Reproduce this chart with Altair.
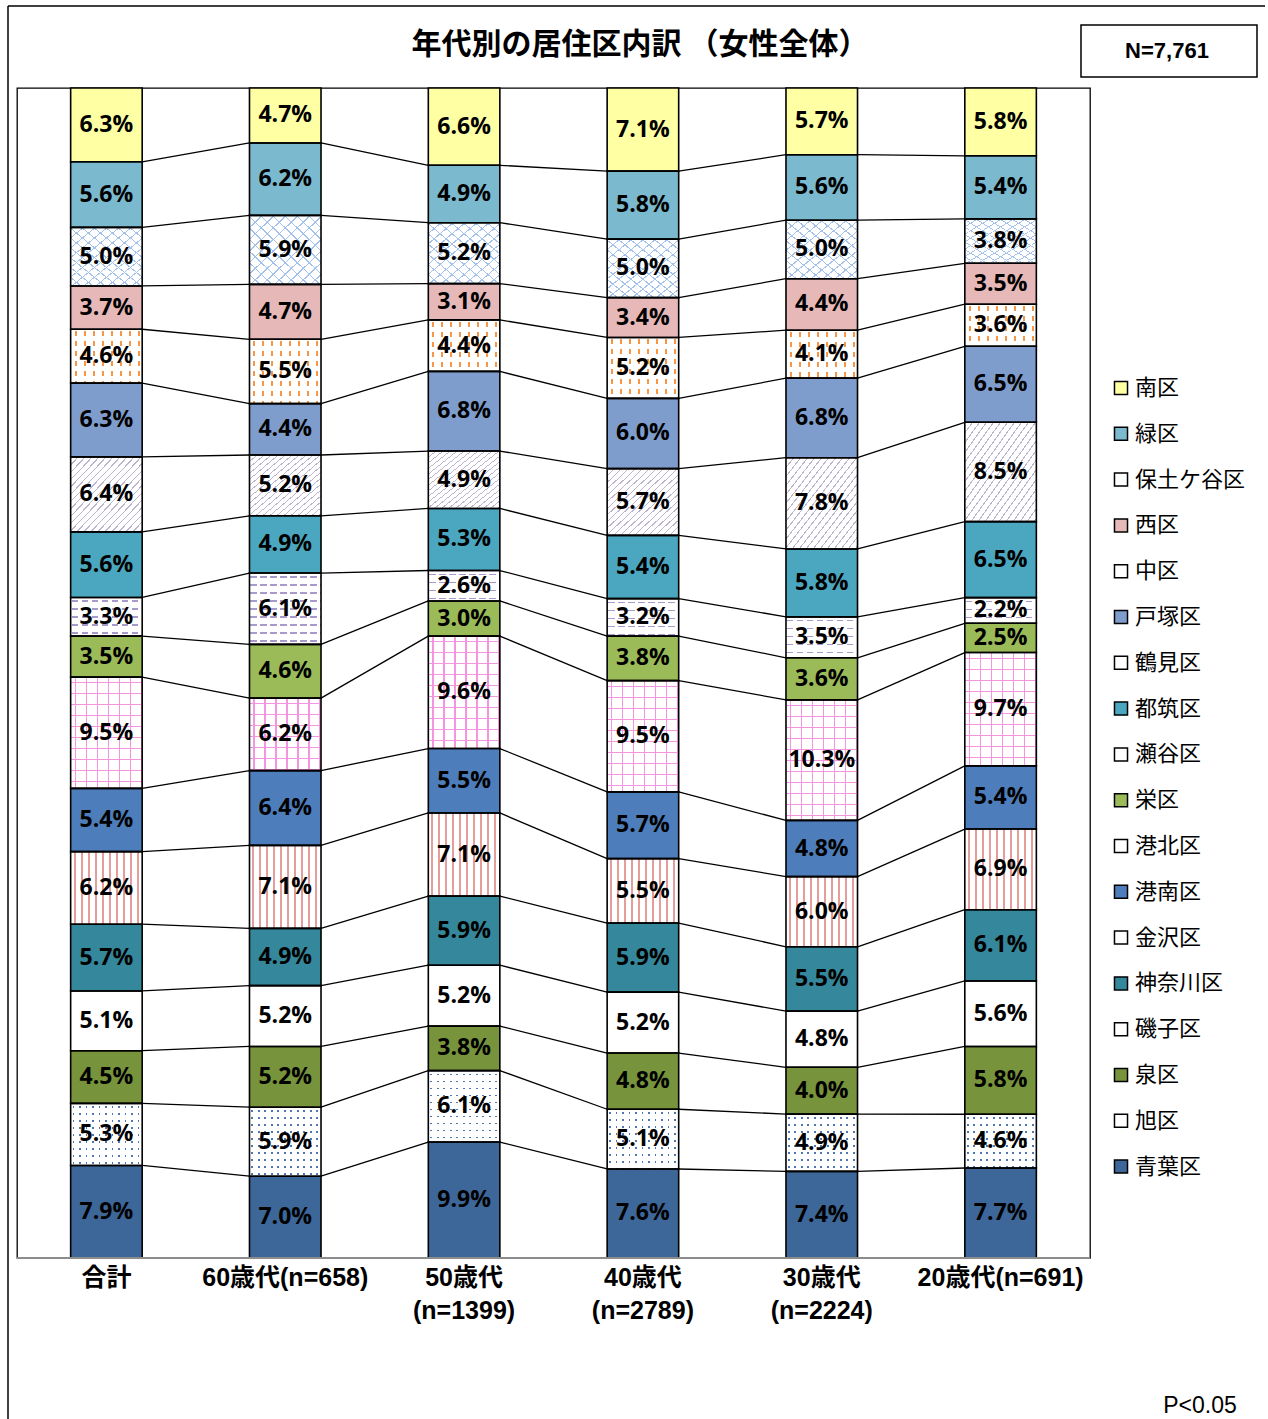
import altair as alt
import pandas as pd

# ---------------- data ----------------
cat_line1 = ["合計", "60歳代(n=658)", "50歳代", "40歳代", "30歳代", "20歳代(n=691)"]
cat_line2 = ["", "", "(n=1399)", "(n=2789)", "(n=2224)", ""]

# stack order, bottom to top
wards = ["青葉区", "旭区", "泉区", "磯子区", "神奈川区", "金沢区", "港南区", "港北区", "栄区",
         "瀬谷区", "都筑区", "鶴見区", "戸塚区", "中区", "西区", "保土ケ谷区", "緑区", "南区"]

vals_total = [7.9, 5.3, 4.5, 5.1, 5.7, 6.2, 5.4, 9.5, 3.5, 3.3, 5.6, 6.4, 6.3, 4.6, 3.7, 5.0, 5.6, 6.3]
vals_60 = [7.0, 5.9, 5.2, 5.2, 4.9, 7.1, 6.4, 6.2, 4.6, 6.1, 4.9, 5.2, 4.4, 5.5, 4.7, 5.9, 6.2, 4.7]
vals_50 = [9.9, 6.1, 3.8, 5.2, 5.9, 7.1, 5.5, 9.6, 3.0, 2.6, 5.3, 4.9, 6.8, 4.4, 3.1, 5.2, 4.9, 6.6]
vals_40 = [7.6, 5.1, 4.8, 5.2, 5.9, 5.5, 5.7, 9.5, 3.8, 3.2, 5.4, 5.7, 6.0, 5.2, 3.4, 5.0, 5.8, 7.1]
vals_30 = [7.4, 4.9, 4.0, 4.8, 5.5, 6.0, 4.8, 10.3, 3.6, 3.5, 5.8, 7.8, 6.8, 4.1, 4.4, 5.0, 5.6, 5.7]
vals_20 = [7.7, 4.6, 5.8, 5.6, 6.1, 6.9, 5.4, 9.7, 2.5, 2.2, 6.5, 8.5, 6.5, 3.6, 3.5, 3.8, 5.4, 5.8]
all_vals = [vals_total, vals_60, vals_50, vals_40, vals_30, vals_20]

title_text = "年代別の居住区内訳 （女性全体）"
n_text = "N=7,761"
p_text = "P<0.05"

# ---------------- styles ----------------
W, H = 1073, 1170
BW = 0.4 * W / 6
WHITE = "#FFFFFF"
T = "rgba(255,255,255,0)"

base_colors = {
    "青葉区": "#3D6699", "旭区": WHITE, "泉区": "#77933C", "磯子区": WHITE,
    "神奈川区": "#35879B", "金沢区": WHITE, "港南区": "#4D7DBA", "港北区": WHITE,
    "栄区": "#9BBB59", "瀬谷区": WHITE, "都筑区": "#4BA7BF", "鶴見区": WHITE,
    "戸塚区": "#7F9DCC", "中区": WHITE, "西区": "#E6B9B8", "保土ケ谷区": WHITE,
    "緑区": "#7BB9CE", "南区": "#FFFFA4",
}

COORDS = {"v": (0, 0, 1, 0), "h": (0, 0, 0, 1), "d": (0, 0, 1, 1), "b": (1, 0, 0, 1)}


def grad(kind, length, period, width, on, off, phase=0.0):
    x1, y1, x2, y2 = COORDS[kind]
    stops = [{"offset": 0, "color": off}]
    p = phase - period
    while p < length:
        a = max(p, 0.0)
        b = min(p + width, length)
        if b > a:
            stops += [{"offset": a / length, "color": off}, {"offset": a / length, "color": on},
                      {"offset": b / length, "color": on}, {"offset": b / length, "color": off}]
        p += period
    stops.append({"offset": 1, "color": off})
    return {"gradient": "linear", "x1": x1, "y1": y1, "x2": x2, "y2": y2, "stops": stops}


def patterns(ward, h):
    if ward == "金沢区":
        return grad("v", BW, 7.0, 2.0, "#E49D9B", T, 3), None
    if ward == "鶴見区":
        return grad("d", 2 * BW, 7.0, 1.3, "#BDB4CF", T), None
    if ward == "保土ケ谷区":
        return grad("d", 2 * BW, 12, 1.5, "#A3C1EA", T), grad("b", 2 * BW, 12, 1.5, "#A3C1EA", T)
    if ward == "中区":
        return grad("v", BW, 9, 2.0, "#F79646", T, 4), grad("h", h, 10, 5, T, WHITE, 2)
    if ward == "瀬谷区":
        return grad("h", h, 8, 1.6, "#A89BCB", T, 3), grad("v", BW, 10, 6.5, T, WHITE, 1)
    if ward == "港北区":
        return grad("h", h, 11, 1.3, "#F594DF", T, 5), grad("v", BW, 11, 1.3, "#F594DF", T, 4)
    if ward == "旭区":
        return grad("v", BW, 6.5, 1.7, "#4F76B0", T, 2), grad("h", h, 7, 1.7, T, WHITE, 3)
    return None, None


# ---------------- tables ----------------
seg_rows, ov1_rows, ov2_rows, conn_rows = [], [], [], []
cums = []
for i, vals in enumerate(all_vals):
    tot = sum(vals)
    cum = [0.0]
    for v in vals:
        cum.append(cum[-1] + v / tot)
    cums.append(cum)
    for k, (w, v) in enumerate(zip(wards, vals)):
        rec = {"ward": w, "value": v, "label": f"{v:.1f}%", "y0": cum[k], "y1": cum[k + 1],
               "xa": i + 0.3, "xb": i + 0.7, "xc": i + 0.5, "ym": (cum[k] + cum[k + 1]) / 2}
        seg_rows.append(rec)
        g1, g2 = patterns(w, (cum[k + 1] - cum[k]) * H)
        if g1 is not None:
            ov1_rows.append(dict(rec, g=g1))
        if g2 is not None:
            ov2_rows.append(dict(rec, g=g2))

for i in range(len(all_vals) - 1):
    for k in range(1, len(wards)):
        conn_rows.append({"x": i + 0.7, "x2": i + 1.3, "y": cums[i][k], "y2": cums[i + 1][k]})

cat_df = pd.DataFrame({"xc": [i + 0.5 for i in range(6)], "l1": cat_line1, "l2": cat_line2})

xs = alt.Scale(domain=[0, 6], nice=False, zero=False)
ys = alt.Scale(domain=[0, 1], nice=False, zero=False)
X = alt.X("xa:Q", scale=xs, axis=None)
Y = alt.Y("y0:Q", scale=ys, axis=None)

legend_order = list(reversed(wards))
legend_colors = [base_colors[w] for w in legend_order]

segs = alt.Data(values=seg_rows)

base = alt.Chart(segs).mark_rect(strokeWidth=0).encode(
    x=X, x2="xb:Q", y=Y, y2="y1:Q",
    fill=alt.Fill("ward:N", scale=alt.Scale(domain=legend_order, range=legend_colors),
                  legend=alt.Legend(orient="none", legendX=1093, legendY=289, title=None,
                                    symbolType="square", symbolSize=170, symbolStrokeColor="black",
                                    symbolStrokeWidth=1.5, symbolOpacity=1,
                                    labelFont="Noto Sans CJK JP", labelFontSize=22, labelColor="black",
                                    rowPadding=23.8, labelOffset=3, padding=0, labelLimit=300)),
)

ov1 = alt.Chart(alt.Data(values=ov1_rows)).mark_rect(strokeWidth=0).encode(
    x=X, x2="xb:Q", y=Y, y2="y1:Q", fill=alt.Fill("g:N", scale=None))
ov2 = alt.Chart(alt.Data(values=ov2_rows)).mark_rect(strokeWidth=0).encode(
    x=X, x2="xb:Q", y=Y, y2="y1:Q", fill=alt.Fill("g:N", scale=None))

outline = alt.Chart(segs).mark_rect(fill="white", fillOpacity=0, stroke="black", strokeWidth=1.6).encode(
    x=X, x2="xb:Q", y=Y, y2="y1:Q")

conn = alt.Chart(alt.Data(values=conn_rows)).mark_rule(color="black", strokeWidth=1.3).encode(
    x=alt.X("x:Q", scale=xs, axis=None), x2="x2:Q",
    y=alt.Y("y:Q", scale=ys, axis=None), y2="y2:Q")

labels = alt.Chart(segs).mark_text(font="Open Sans", fontWeight="bold", fontSize=23, color="black",
                                   baseline="middle", align="center").encode(
    x=alt.X("xc:Q", scale=xs, axis=None), y=alt.Y("ym:Q", scale=ys, axis=None), text="label:N")

cat_font = "Liberation Sans, Noto Sans CJK JP"
cat1 = alt.Chart(cat_df).mark_text(font=cat_font, fontWeight="bold", fontSize=25, color="black",
                                   baseline="middle").encode(
    x=alt.X("xc:Q", scale=xs, axis=None), y=alt.value(1190), text="l1:N")
cat2 = alt.Chart(cat_df).mark_text(font=cat_font, fontWeight="bold", fontSize=25, color="black",
                                   baseline="middle").encode(
    x=alt.X("xc:Q", scale=xs, axis=None), y=alt.value(1223), text="l2:N")

ann_df = pd.DataFrame({"a": [0]})
title = alt.Chart(ann_df).mark_text(font="Noto Sans CJK JP", fontWeight="bold", fontSize=30,
                                    color="black", baseline="middle").encode(
    x=alt.value(623), y=alt.value(-43), text=alt.value(title_text))
nbox = alt.Chart(ann_df).mark_rect(fill="white", stroke="black", strokeWidth=1.5).encode(
    x=alt.value(1064), x2=alt.value(1240), y=alt.value(-63), y2=alt.value(-11))
ntxt = alt.Chart(ann_df).mark_text(font=cat_font, fontWeight="bold", fontSize=22, color="black",
                                   baseline="middle").encode(
    x=alt.value(1150), y=alt.value(-37), text=alt.value(n_text))
ptxt = alt.Chart(ann_df).mark_text(font=cat_font, fontSize=23, color="black", baseline="middle").encode(
    x=alt.value(1183), y=alt.value(1318), text=alt.value(p_text))
frame_left = alt.Chart(ann_df).mark_rule(color="black", strokeWidth=1.5).encode(
    x=alt.value(-9), y=alt.value(-82), y2=alt.value(1340))
frame_top = alt.Chart(ann_df).mark_rule(color="black", strokeWidth=1.5).encode(
    x=alt.value(-9), x2=alt.value(1248), y=alt.value(-82))
bottom_axis = alt.Chart(ann_df).mark_rule(color="#8C8C8C", strokeWidth=2).encode(
    x=alt.value(0), x2=alt.value(W), y=alt.value(H))

chart = alt.layer(
    frame_left, frame_top, base, ov1, ov2, outline, conn, labels, cat1, cat2,
    title, nbox, ntxt, ptxt, bottom_axis,
).properties(
    width=W, height=H,
    autosize=alt.AutoSizeParams(type="none"),
    padding={"left": 17, "top": 88, "right": 178, "bottom": 161},
    background="white",
).configure_view(stroke="black", strokeWidth=1.3)

chart.save("out.html", embed_options={"renderer": "svg", "actions": False})
